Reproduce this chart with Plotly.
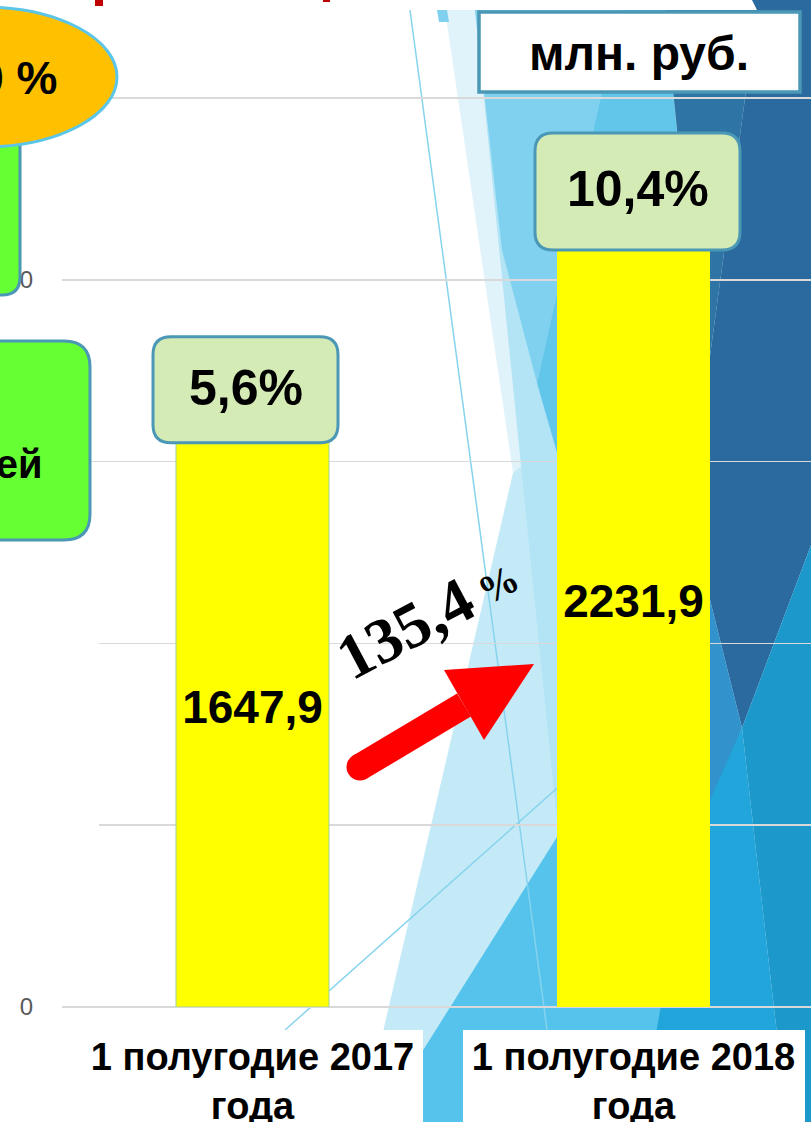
import plotly.graph_objects as go

# ---------------- data ----------------
categories = ["1 полугодие 2017<br>года", "1 полугодие 2018<br>года"]
values = [1647.9, 2231.9]          # млн. руб.
share_pct = [5.6, 10.4]            # доля, %
unit_label = "млн. руб."
y_ticks = [0, 500, 1000, 1500, 2000, 2500]

growth = values[1] / values[0] * 100.0   # 135,4 %

# ---------------- helpers (page decoration, pixel -> paper) ----------------
W, H = 811, 1122


def P(x, y):
    return f"{x / W:.5f},{1 - y / H:.5f}"


def poly(pts):
    return "M" + " L".join(P(x, y) for x, y in pts) + " Z"


def rrect(x0, y0, x1, y1, rs):
    tl, tr, br, bl = rs
    return (f"M{P(x0 + tl, y0)} L{P(x1 - tr, y0)} Q{P(x1, y0)} {P(x1, y0 + tr)} "
            f"L{P(x1, y1 - br)} Q{P(x1, y1)} {P(x1 - br, y1)} L{P(x0 + bl, y1)} "
            f"Q{P(x0, y1)} {P(x0, y1 - bl)} L{P(x0, y0 + tl)} Q{P(x0, y0)} {P(x0 + tl, y0)} Z")


def rrect_pix(cx, cy, w, h, r):
    x0, x1, y0, y1 = cx - w / 2, cx + w / 2, cy - h / 2, cy + h / 2
    return (f"M{x0 + r},{y0} L{x1 - r},{y0} Q{x1},{y0} {x1},{y0 + r} L{x1},{y1 - r} "
            f"Q{x1},{y1} {x1 - r},{y1} L{x0 + r},{y1} Q{x0},{y1} {x0},{y1 - r} "
            f"L{x0},{y0 + r} Q{x0},{y0} {x0 + r},{y0} Z")


def fr(v):
    return f"{v:.1f}".replace(".", ",")


shapes = []


def bg(pts, color, layer="below"):
    shapes.append(dict(type="path", xref="paper", yref="paper", path=poly(pts),
                       fillcolor=color, line=dict(width=0), layer=layer))


# background facets (slide theme)
bg([(445, 10), (811, 10), (811, 1122), (540, 1122), (513, 473)], "#e1f3fa")
bg([(513, 473), (600, 400), (700, 1122), (362, 1122)], "#c5eaf7")
bg([(475, 10), (700, 10), (700, 1030), (578, 1030)], "#b2e4f5")
bg([(437, 10), (447, 10), (449, 22), (439, 22)], "#7fd1ef")
bg([(475, 10), (620, 10), (537, 383), (502, 250), (485, 100)], "#7fd1ef")
bg([(620, 10), (665, 10), (705, 420), (600, 603), (537, 383)], "#62c6ea")
bg([(665, 10), (757, 10), (704, 400)], "#2e75a6")
bg([(752, 0), (811, 0), (811, 545), (742, 728), (700, 560), (700, 420), (704, 400), (757, 10)], "#2a6a9e")
bg([(700, 560), (742, 728), (700, 838)], "#3192cc")
bg([(378, 1122), (557, 837), (700, 620), (700, 1122)], "#55c3eb")
bg([(640, 1122), (690, 845), (742, 728), (787, 1122)], "#21a5db")
bg([(742, 728), (811, 545), (811, 1122), (787, 1122)], "#1d98cb")

# thin theme lines
for (xa, ya), (xb, yb) in [((410, 10), (547, 1030)), ((285, 1030), (600, 750))]:
    shapes.append(dict(type="line", xref="paper", yref="paper",
                       x0=xa / W, y0=1 - ya / H, x1=xb / W, y1=1 - yb / H,
                       line=dict(color="#86d3ee", width=1.5), layer="below"))

# white boxes behind category labels
bg([(0, 1030), (423, 1030), (423, 1122), (0, 1122)], "#ffffff")
bg([(463, 1030), (805, 1030), (805, 1122), (463, 1122)], "#ffffff")

# ---- above layer ----
# red title fragments at top
bg([(95, 0), (103, 0), (103, 6), (95, 6)], "#c00000", "above")
bg([(323, 0), (330, 0), (330, 2), (323, 2)], "#c00000", "above")
# white cover left of grid
bg([(0, 550), (99, 550), (99, 905), (0, 905)], "#ffffff", "above")

BORDER = "#4a98b5"
# green box top-left (under ellipse)
shapes.append(dict(type="path", xref="paper", yref="paper",
                   path=rrect(-40, 90, 20, 295, (0, 0, 18, 0)),
                   fillcolor="#66ff33", line=dict(color=BORDER, width=3), layer="above"))
# orange ellipse
shapes.append(dict(type="circle", xref="paper", yref="paper",
                   x0=-150 / W, x1=117 / W, y0=1 - 147 / H, y1=1 - 7 / H,
                   fillcolor="#ffc000", line=dict(color="#5bc6e8", width=3), layer="above"))
# green box left
shapes.append(dict(type="path", xref="paper", yref="paper",
                   path=rrect(-40, 341, 90, 540, (26, 26, 26, 26)),
                   fillcolor="#66ff33", line=dict(color=BORDER, width=3), layer="above"))
# unit box
shapes.append(dict(type="rect", xref="paper", yref="paper",
                   x0=479 / W, x1=800 / W, y0=1 - 92 / H, y1=1 - 12 / H,
                   fillcolor="#ffffff", line=dict(color=BORDER, width=3.5), layer="above"))

# percent boxes anchored at bar tops (manual callout sizes / shifts, pixels)
BOX_SIZE = [(185, 106), (205, 117)]
BOX_SHIFT = [(-7, 18), (4, 4)]
for i, v in enumerate(values):
    (bw, bh), (sx, sy) = BOX_SIZE[i], BOX_SHIFT[i]
    shapes.append(dict(type="path", xref="x", yref="y", xsizemode="pixel", ysizemode="pixel",
                       xanchor=i, yanchor=v, path=rrect_pix(sx, sy, bw, bh, 18),
                       fillcolor="#d5ebb5", line=dict(color=BORDER, width=3), layer="above"))

# red arrow
tail, base, half = (360, 767), (464, 705), 13.5
dx, dy = 534 - 360, 664 - 767
ln = (dx ** 2 + dy ** 2) ** 0.5
nx, ny = -dy / ln * half, dx / ln * half
bg([(tail[0] + nx, tail[1] + ny), (base[0] + nx, base[1] + ny),
    (base[0] - nx, base[1] - ny), (tail[0] - nx, tail[1] - ny)], "#ff0000", "above")
shapes.append(dict(type="circle", xref="paper", yref="paper",
                   x0=(tail[0] - half) / W, x1=(tail[0] + half) / W,
                   y0=1 - (tail[1] + half) / H, y1=1 - (tail[1] - half) / H,
                   fillcolor="#ff0000", line=dict(width=0), layer="above"))
bg([(444, 670), (534, 664), (484, 740)], "#ff0000", "above")


# ---------------- annotations ----------------
def note(x, y, text, size, family="Liberation Sans", xanchor="center", angle=0):
    return dict(xref="paper", yref="paper", x=x / W, y=1 - y / H, text=text, showarrow=False,
                xanchor=xanchor, yanchor="middle", textangle=angle,
                font=dict(family=family, size=size, color="#000000", weight="bold"))


annotations = [
    note(639, 54, unit_label, 48),
    note(59, 78, "100 %", 46, xanchor="right"),
    note(45, 464, "рублей", 40, xanchor="right"),
    note(405, 628, fr(growth), 64, family="Liberation Serif", angle=-28),
    note(498, 584, "%", 40, family="Liberation Serif", angle=-28),
]
for i, (v, s) in enumerate(zip(values, share_pct)):
    sx, sy = BOX_SHIFT[i]
    annotations.append(dict(xref="x", yref="y", x=i, y=v, yshift=sy + 2, xshift=sx,
                            xanchor="center", yanchor="middle",
                            text=fr(s) + "%", showarrow=False,
                            font=dict(family="Liberation Sans", size=50, color="#000000", weight="bold")))

# ---------------- figure ----------------
fig = go.Figure(go.Bar(
    x=categories, y=values, width=0.4016,
    marker=dict(color="#ffff00", line=dict(color=["#9fd39a", "rgba(0,0,0,0)"], width=1)),
    texttemplate="%{y:.1f}", textposition="inside", insidetextanchor="middle",
    constraintext="none", textangle=0, hoverinfo="skip",
    textfont=dict(family="Liberation Sans", size=46, color="#000000", weight="bold"),
))

px_per_unit = (1007 - 98) / 2500
fig.update_layout(
    width=W, height=H, autosize=False,
    margin=dict(l=0, r=0, t=0, b=0, pad=0, autoexpand=False),
    paper_bgcolor="#ffffff", plot_bgcolor="rgba(0,0,0,0)",
    separators=", ", showlegend=False,
    shapes=shapes, annotations=annotations,
    xaxis=dict(type="category", domain=[62 / W, 1], range=[-0.5, -0.5 + (W - 62) / 381],
               automargin=False,
               showgrid=False, showline=False, zeroline=False, ticks="",
               tickfont=dict(family="Liberation Sans", size=38, color="#000000", weight="bold"),
               ticklabelstandoff=24),
    yaxis=dict(domain=[1 - 1007 / H, 1], range=[0, 1007 / px_per_unit],
               automargin=False,
               tickvals=y_ticks, showgrid=True, gridcolor="#d9d9d9", gridwidth=1.5,
               zeroline=True, zerolinecolor="#d9d9d9", zerolinewidth=1.5, showline=False,
               ticks="", ticklabelstandoff=28,
               tickfont=dict(family="Liberation Sans", size=24, color="#595959")),
)

fig.write_html("out.html", config={"displayModeBar": False, "staticPlot": True},
               post_script="document.body.style.margin='0';document.body.style.overflow='hidden';")
